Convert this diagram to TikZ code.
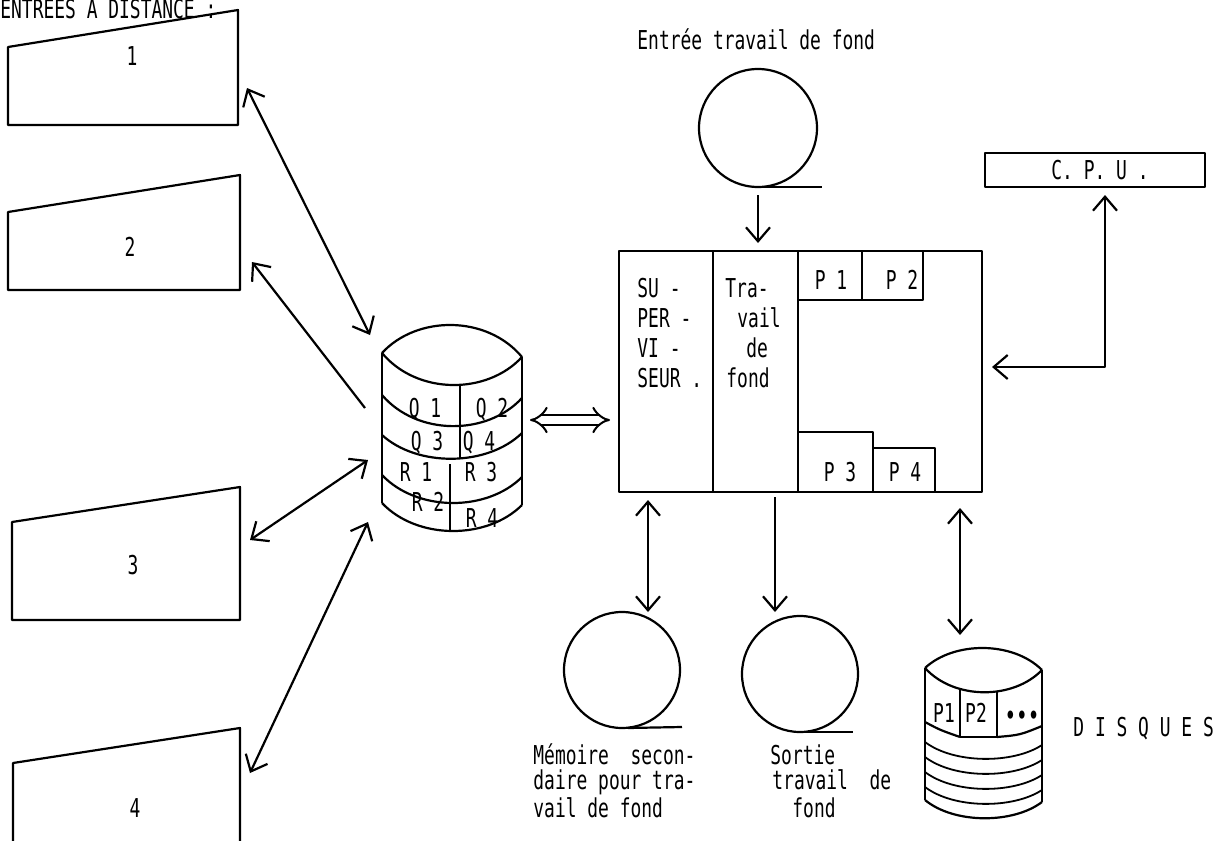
\documentclass[tikz,border=0pt]{standalone}
\usepackage{fontspec}
\newfontfamily\tw[FakeStretch=0.69]{DejaVu Sans Mono}
\usetikzlibrary{arrows.meta}
\begin{document}
\begin{tikzpicture}[x=0.5pt,y=-0.5pt,
  ln/.style={line width=1.1pt, line join=round},
  thin/.style={line width=0.9pt},
  lbl/.style={font=\tw\fontsize{13}{15}\selectfont, inner sep=0pt, text height=9.5pt, text depth=0pt},
  arr/.style={ln, -{Straight Barb[length=7pt,width=12pt]}},
  both/.style={ln, {Straight Barb[length=7pt,width=12pt]}-{Straight Barb[length=7pt,width=12pt]}},
  dbl/.style={line width=1pt, double, double distance=3.6pt, {Implies[scale=1.9]}-{Implies[scale=1.9]}}]
\useasboundingbox (0,0) rectangle (1228,841);
\clip (0,0) rectangle (1228,841);

% heading
\node[lbl, anchor=west] (head) at (0,8.5) {ENTREES A DISTANCE :};

% terminals
\draw[ln] (8,47) -- (238,10) -- (238,125) -- (8,125) -- cycle;
\draw[ln] (8,212) -- (240,175) -- (240,290) -- (8,290) -- cycle;
\draw[ln] (12,522) -- (240,487) -- (240,620) -- (12,620) -- cycle;
\draw[ln] (13,763) -- (240,728) -- (240,860) -- (13,860) -- cycle;
\node[lbl] (n1) at (132,56) {1};
\node[lbl] (n2) at (130,247) {2};
\node[lbl] (n3) at (133,565) {3};
\node[lbl] (n4) at (135,808) {4};
\coordinate (t1) at (247,88);
\coordinate (t2) at (252,262);
\coordinate (t3) at (250,540);
\coordinate (t4) at (250,773);

% left drum
\draw[ln] (382,353) .. controls (417,315) and (487,315) .. (522,357);
\draw[ln] (382,353) .. controls (417,395) and (487,395) .. (522,357);
\draw[ln] (382,353) -- (382,503);
\draw[ln] (522,357) -- (522,505);
\draw[ln] (382,395) .. controls (417,436) and (487,436) .. (522,398);
\draw[ln] (382,435) .. controls (417,467) and (487,467) .. (522,433);
\draw[ln] (382,475) .. controls (417,512) and (487,512) .. (522,477);
\draw[ln] (382,503) .. controls (417,540) and (487,540) .. (522,505);
\draw[ln] (460,385) -- (460,458);
\draw[ln] (450,464) -- (450,531);
\node[lbl] (q1) at (425,408) {Q 1};
\node[lbl] (q2) at (492,408) {Q 2};
\node[lbl] (q3) at (427,441) {Q 3};
\node[lbl] (q4) at (479,441) {Q 4};
\node[lbl] (r1) at (416,472) {R 1};
\node[lbl] (r3) at (481,472) {R 3};
\node[lbl] (r2) at (428,502) {R 2};
\node[lbl] (r4) at (482,518) {R 4};
\coordinate (d1) at (370,335);
\coordinate (d2) at (365,408);
\coordinate (d3) at (368,460);
\coordinate (d4) at (368,522);
\coordinate (dE) at (530,420);

% terminal connectors
\draw[both] (t1) -- (d1);
\draw[arr] (d2) -- (t2);
\draw[both] (t3) -- (d3);
\draw[both] (t4) -- (d4);

% main memory box
\draw[ln] (619,251) rectangle (982,492);
\draw[ln] (713,251) -- (713,492);
\draw[ln] (798,251) -- (798,492);
\draw[ln] (798,300) -- (923,300) -- (923,251);
\draw[ln] (862,251) -- (862,300);
\draw[ln] (798,432) -- (873,432) -- (873,492);
\draw[ln] (873,448) -- (935,448) -- (935,492);
\node[lbl] (p1) at (831,280) {P 1};
\node[lbl] (p2) at (902,280) {P 2};
\node[lbl] (p3) at (840,472) {P 3};
\node[lbl] (p4) at (905,472) {P 4};
\node[lbl, anchor=west] (s1) at (637,288) {SU -};
\node[lbl, anchor=west] (s2) at (637,318) {PER -};
\node[lbl, anchor=west] (s3) at (637,348) {VI -};
\node[lbl, anchor=west] (s4) at (637,378) {SEUR .};
\node[lbl, anchor=west] (w1) at (725,288) {Tra-};
\node[lbl, anchor=west] (w2) at (737,318) {vail};
\node[lbl, anchor=west] (w3) at (746,348) {de};
\node[lbl, anchor=west] (w4) at (726,378) {fond};
\coordinate (mW) at (610,420);
\coordinate (mN) at (758,243);
\coordinate (mE) at (992,367);
\coordinate (mS1) at (648,500);
\coordinate (mS2) at (775,497);
\coordinate (mS3) at (960,508);

\draw[dbl] (dE) -- (mW);

% input tape
\node[lbl, anchor=west] (entree) at (637,40) {Entrée travail de fond};
\draw[ln] (758,128) circle[radius=59];
\draw[ln] (763,187) -- (822,187);
\coordinate (tapeIn) at (758,195);
\draw[arr] (tapeIn) -- (mN);

% CPU
\draw[ln] (985,153) rectangle (1205,187);
\node[lbl] (cpu) at (1100,170) {C. P. U .};
\coordinate (cpuS) at (1105,195);
\coordinate (corner) at (1105,367);
\draw[both] (mE) -- (corner) -- (cpuS);

% bottom tapes
\draw[ln] (622,670) circle[radius=58];
\draw[ln] (628,728) -- (682,727);
\draw[ln] (800,674) circle[radius=58];
\draw[ln] (805,732) -- (853,732);
\coordinate (c1N) at (648,612);
\coordinate (c2N) at (775,612);
\draw[both] (mS1) -- (c1N);
\draw[arr] (mS2) -- (c2N);
\node[lbl, anchor=west] (m1) at (533,755) {Mémoire~~secon-};
\node[lbl, anchor=west] (m2) at (533,780) {daire pour tra-};
\node[lbl, anchor=west] (m3) at (533,808) {vail de fond};
\node[lbl, anchor=west] (o1) at (770,755) {Sortie};
\node[lbl, anchor=west] (o2) at (772,780) {travail~~de};
\node[lbl, anchor=west] (o3) at (792,808) {fond};

% disks
\draw[ln] (925,668) .. controls (954,641) and (1013,641) .. (1042,670);
\draw[ln] (925,668) .. controls (954,700) and (1013,700) .. (1042,670);
\draw[ln] (925,668) -- (925,800);
\draw[ln] (1042,670) -- (1042,802);
\draw[ln] (960,688) -- (960,737);
\draw[ln] (997,691) -- (997,737) -- (960,737);
\draw[ln] (925,722) .. controls (940,730) .. (960,737);
\draw[ln] (997,737) .. controls (1020,735) .. (1042,726);
\draw[thin] (925,742) .. controls (954,764) and (1013,764) .. (1042,745);
\draw[thin] (925,757) .. controls (954,779) and (1013,779) .. (1042,760);
\draw[thin] (925,772) .. controls (954,794) and (1013,794) .. (1042,775);
\draw[thin] (925,787) .. controls (954,809) and (1013,809) .. (1042,790);
\draw[ln] (925,800) .. controls (954,824) and (1013,824) .. (1042,802);
\node[lbl] (dp1) at (944,713) {P1};
\node[lbl] (dp2) at (976,713) {P2};
\node[lbl] (dots) at (1022,716) {\fontsize{14}{14}\selectfont •••};
\node[lbl, anchor=west] (disques) at (1073,727) {D I S Q U E S};
\coordinate (dkN) at (960,635);
\draw[both] (mS3) -- (dkN);
\end{tikzpicture}
\end{document}
